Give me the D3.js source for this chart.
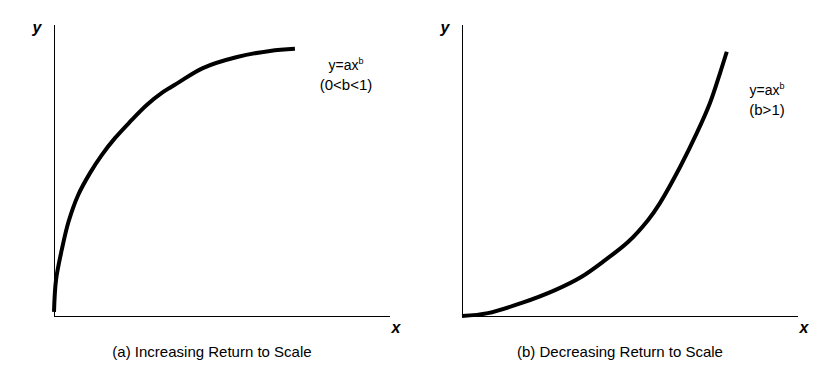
<!DOCTYPE html>
<html>
<head>
<meta charset="utf-8">
<script src="https://cdnjs.cloudflare.com/ajax/libs/d3/7.8.5/d3.min.js"></script>
<style>
  body { margin: 0; background: #fff; }
  text { font-family: "Liberation Sans", Arial, sans-serif; fill: #000; }
</style>
</head>
<body>
<script>
// curve readings (x, y on a 0-100 scale for both axes)
var increasingX = [0, 0.6, 2.3, 4.3, 7.2, 10.7, 14.2, 18.2, 22.6, 27.6, 32.5, 37, 44.3, 54.5, 64.3, 71.7];
var increasingY = [1.4, 12.4, 22.7, 32.3, 41.6, 49.1, 55.3, 61.2, 66.7, 72.5, 77, 80.2, 85.2, 89, 91.1, 91.8];

var decreasingX = [0, 7.7, 17.8, 27.7, 35.6, 42.6, 49.4, 55.4, 58.9, 64.9, 69.9, 73.8, 76.8, 78.8];
var decreasingY = [0, 1, 4.5, 8.9, 13.5, 19.2, 25.4, 33, 38.8, 51.2, 62.9, 73.2, 83.5, 90.8];

var captions = ["(a) Increasing Return to Scale", "(b) Decreasing Return to Scale"];
var formulas = ["(0<b<1)", "(b>1)"];

var svg = d3.select("body").append("svg")
    .attr("width", 818)
    .attr("height", 366);

var panels = [
    {left: 54, xs: increasingX, ys: increasingY, caption: captions[0], cond: formulas[0],
     fx: 346, fy: 70, cx: 212},
    {left: 462, xs: decreasingX, ys: decreasingY, caption: captions[1], cond: formulas[1],
     fx: 767, fy: 95, cx: 620}
];

panels.forEach(function (p) {
    var x = d3.scaleLinear().domain([0, 100]).range([p.left, p.left + 336]);
    var y = d3.scaleLinear().domain([0, 100]).range([316, 25]);

    var g = svg.append("g");

    // axes, plain lines no ticks
    g.append("line")
        .attr("x1", x(0) + 0.5).attr("x2", x(0) + 0.5)
        .attr("y1", y(100)).attr("y2", y(0))
        .style("stroke", "#000").style("stroke-width", 1);
    g.append("line")
        .attr("x1", x(0)).attr("x2", x(100))
        .attr("y1", y(0) + 0.5).attr("y2", y(0) + 0.5)
        .style("stroke", "#000").style("stroke-width", 1);

    var pts = p.xs.map(function (v, i) { return [v, p.ys[i]]; });

    var line = d3.line()
        .x(function (d) { return x(d[0]); })
        .y(function (d) { return y(d[1]); })
        .curve(d3.curveCatmullRom.alpha(0.5));

    g.append("path")
        .datum(pts)
        .attr("d", line)
        .style("fill", "none")
        .style("stroke", "#000")
        .style("stroke-width", 4);

    // axis labels
    g.append("text")
        .attr("x", x(0) - 17).attr("y", 33)
        .attr("text-anchor", "middle")
        .style("font-size", "16px")
        .style("font-weight", "bold")
        .style("font-style", "italic")
        .text("y");
    g.append("text")
        .attr("x", x(100) + 6).attr("y", 333)
        .attr("text-anchor", "middle")
        .style("font-size", "16px")
        .style("font-weight", "bold")
        .style("font-style", "italic")
        .text("x");

    // formula
    var f = g.append("text")
        .attr("x", p.fx).attr("y", p.fy)
        .attr("text-anchor", "middle")
        .style("font-size", "14px");
    f.append("tspan").text("y=ax");
    f.append("tspan").attr("dy", -6).style("font-size", "9px").text("b");
    g.append("text")
        .attr("x", p.fx).attr("y", p.fy + 20)
        .attr("text-anchor", "middle")
        .style("font-size", "15px")
        .text(p.cond);

    // caption
    g.append("text")
        .attr("x", p.cx).attr("y", 357)
        .attr("text-anchor", "middle")
        .style("font-size", "15px")
        .text(p.caption);
});
</script>
</body>
</html>
